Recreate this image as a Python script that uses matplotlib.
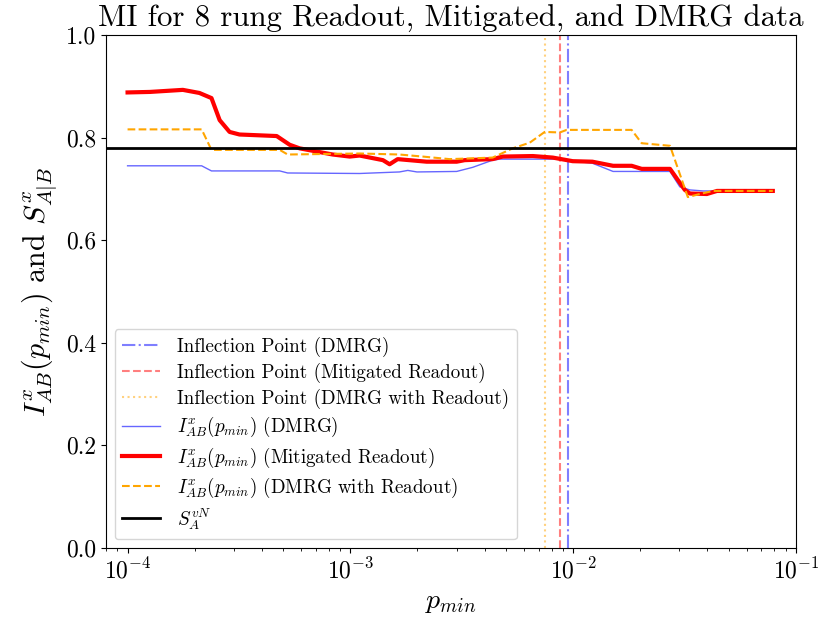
import numpy as np
import matplotlib
matplotlib.use("Agg")
import matplotlib.pyplot as plt

plt.rcParams["font.family"] = "serif"
plt.rcParams["font.serif"] = ["cmr10", "DejaVu Serif"]
plt.rcParams["mathtext.fontset"] = "cm"
plt.rcParams["axes.formatter.use_mathtext"] = True
plt.rcParams["axes.unicode_minus"] = False

# Mutual information vs. p_min for the three data sets
p_dmrg = [1.00e-4, 2.15e-4, 2.38e-4, 4.82e-4, 5.23e-4, 1.10e-3, 1.66e-3, 1.81e-3,
          1.99e-3, 3.00e-3, 3.54e-3, 4.35e-3, 4.68e-3, 8.44e-3, 1.22e-2, 1.51e-2,
          2.72e-2, 3.01e-2, 3.34e-2, 3.82e-2, 7.87e-2]
mi_dmrg = [0.745, 0.745, 0.735, 0.735, 0.731, 0.730, 0.733, 0.736,
           0.733, 0.734, 0.742, 0.756, 0.758, 0.758, 0.750, 0.734,
           0.734, 0.704, 0.698, 0.696, 0.696]

p_mitig = [1.00e-4, 1.26e-4, 1.77e-4, 2.10e-4, 2.38e-4, 2.59e-4, 2.87e-4, 3.18e-4,
           4.67e-4, 5.34e-4, 5.92e-4, 8.33e-4, 9.93e-4, 1.10e-3, 1.40e-3, 1.50e-3,
           1.63e-3, 2.20e-3, 3.00e-3, 3.26e-3, 4.35e-3, 4.83e-3, 6.59e-3, 8.10e-3,
           9.95e-3, 1.22e-2, 1.51e-2, 1.83e-2, 2.03e-2, 2.72e-2, 3.17e-2, 3.34e-2,
           3.98e-2, 4.42e-2, 7.87e-2]
mi_mitig = [0.888, 0.889, 0.893, 0.887, 0.877, 0.834, 0.811, 0.806,
            0.803, 0.786, 0.779, 0.767, 0.763, 0.765, 0.756, 0.748,
            0.758, 0.753, 0.753, 0.756, 0.758, 0.763, 0.764, 0.761,
            0.754, 0.753, 0.745, 0.745, 0.739, 0.739, 0.698, 0.691,
            0.690, 0.696, 0.696]

p_readout = [1.00e-4, 2.15e-4, 2.38e-4, 4.82e-4, 5.23e-4, 1.10e-3, 1.66e-3, 2.11e-3,
             2.79e-3, 4.35e-3, 5.35e-3, 6.38e-3, 7.45e-3, 8.71e-3, 9.35e-3, 1.83e-2,
             2.03e-2, 2.72e-2, 3.27e-2, 3.70e-2, 4.24e-2, 7.87e-2]
mi_readout = [0.816, 0.816, 0.776, 0.776, 0.767, 0.769, 0.767, 0.763,
              0.758, 0.761, 0.779, 0.790, 0.811, 0.810, 0.815, 0.815,
              0.789, 0.784, 0.684, 0.690, 0.696, 0.696]

# Inflection points and von Neumann entropy
infl_dmrg = 9.52e-3
infl_mitig = 8.77e-3
infl_readout = 7.45e-3
s_vn = 0.779

fig = plt.figure(figsize=(8.19, 6.28), dpi=100)
ax = fig.add_axes([0.1294, 0.1274, 0.8425, 0.8169])

ax.axvline(infl_dmrg, color="blue", alpha=0.5, ls="-.", lw=1.5,
           label="Inflection Point (DMRG)")
ax.axvline(infl_mitig, color="red", alpha=0.5, ls="--", lw=1.5,
           label="Inflection Point (Mitigated Readout)")
ax.axvline(infl_readout, color="orange", alpha=0.5, ls=":", lw=1.5,
           label="Inflection Point (DMRG with Readout)")
ax.plot(p_dmrg, mi_dmrg, color="blue", alpha=0.6, lw=1.0,
        label=r"$I^x_{AB}(p_{min})$ (DMRG)")
ax.plot(p_mitig, mi_mitig, color="red", lw=3.0,
        label=r"$I^x_{AB}(p_{min})$ (Mitigated Readout)")
ax.plot(p_readout, mi_readout, color="orange", ls="--", lw=1.5,
        label=r"$I^x_{AB}(p_{min})$ (DMRG with Readout)")
ax.axhline(s_vn, color="black", lw=2.0, label=r"$S_A^{vN}$")

ax.set_xscale("log")
ax.set_xlim(8e-5, 1e-1)
ax.set_ylim(0, 1.0)
ax.set_yticks([0.0, 0.2, 0.4, 0.6, 0.8, 1.0])
ax.set_yticklabels(["0.0", "0.2", "0.4", "0.6", "0.8", "1.0"])
ax.tick_params(labelsize=17)

ax.set_xlabel(r"$p_{min}$", fontsize=20)
ax.set_ylabel(r"$I^x_{AB}(p_{min})$ and $S^x_{A|B}$", fontsize=21.5)
ax.set_title("MI for 8 rung Readout, Mitigated, and DMRG data", fontsize=22.2)

ax.legend(loc="lower left", fontsize=13.7, labelspacing=0.32,
          handletextpad=0.9, borderaxespad=0.45)

fig.savefig("out.png", dpi=100)
